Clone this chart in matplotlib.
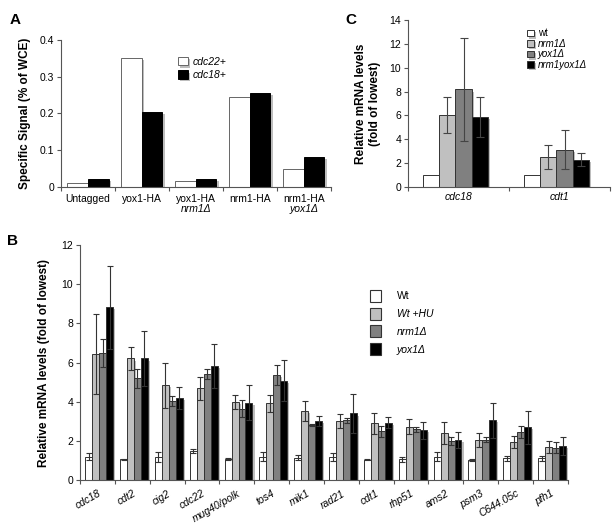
import numpy as np
import matplotlib
matplotlib.use("Agg")
import matplotlib.pyplot as plt
import matplotlib.patheffects as pe
from matplotlib.patches import Patch

plt.rcParams['font.family'] = ['Liberation Sans', 'DejaVu Sans']

# ---- panel A: ChIP signal ----
a_groups = ["Untagged", "yox1-HA", "yox1-HA", "nrm1-HA", "nrm1-HA"]
a_sub = ["", "", "nrm1Δ", "", "yox1Δ"]
a_cdc22 = [0.012, 0.350, 0.017, 0.245, 0.048]
a_cdc18 = [0.022, 0.205, 0.022, 0.256, 0.082]

# ---- panel B: mRNA levels ----
b_genes = ["cdc18", "cdt2", "cig2", "cdc22", "mug40/polk", "tos4", "mik1", "rad21",
           "cdt1", "rhp51", "ams2", "psm3", "C644.05c", "pfh1"]
b_labels = ["Wt", "Wt +HU", "nrm1Δ", "yox1Δ"]
b_wt = [1.20, 1.05, 1.16, 1.48, 1.05, 1.19, 1.14, 1.16, 1.03, 1.05, 1.19, 1.02, 1.11, 1.11]
b_wt_err = [0.20, 0.04, 0.25, 0.12, 0.05, 0.23, 0.12, 0.20, 0.03, 0.14, 0.24, 0.06, 0.13, 0.13]
b_hu = [6.45, 6.21, 4.85, 4.68, 3.98, 3.91, 3.51, 3.01, 2.89, 2.72, 2.38, 2.04, 1.94, 1.70]
b_hu_err = [2.05, 0.60, 1.15, 0.60, 0.37, 0.45, 0.52, 0.35, 0.52, 0.38, 0.56, 0.37, 0.31, 0.30]
b_nrm = [6.50, 5.19, 4.05, 5.41, 3.64, 5.36, 2.81, 3.06, 2.50, 2.59, 2.00, 2.06, 2.45, 1.65]
b_nrm_err = [0.70, 0.50, 0.25, 0.25, 0.43, 0.52, 0.07, 0.13, 0.28, 0.14, 0.20, 0.12, 0.30, 0.27]
b_yox = [8.82, 6.21, 4.19, 5.84, 3.95, 5.07, 3.01, 3.40, 2.93, 2.55, 2.04, 3.06, 2.69, 1.75]
b_yox_err = [2.10, 1.42, 0.55, 1.12, 0.90, 1.05, 0.25, 1.00, 0.27, 0.43, 0.40, 0.90, 0.85, 0.45]

# ---- panel C: mRNA in double mutant ----
c_genes = ["cdc18", "cdt1"]
c_labels = ["wt", "nrm1Δ", "yox1Δ", "nrm1yox1Δ"]
c_vals = [[1.0, 1.0], [6.02, 2.52], [8.18, 3.14], [5.88, 2.30]]
c_errs = [[0.0, 0.0], [1.50, 1.03], [4.30, 1.61], [1.68, 0.55]]

fills = ["white", "#c0c0c0", "#808080", "black"]
edge = "#333333"
shadow = [pe.SimplePatchShadow(offset=(1.5, -1.5), shadow_rgbFace="#bdbdbd", alpha=1), pe.Normal()]


def style_axes(ax):
    for s in ["top", "right"]:
        ax.spines[s].set_visible(False)
    for s in ["left", "bottom"]:
        ax.spines[s].set_color("#555555")
        ax.spines[s].set_linewidth(0.8)
    ax.tick_params(axis="y", direction="out", length=3, width=0.8, color="#555555", labelsize=7.5, pad=2)


def cat_ticks(ax, n):
    # Excel-like tick marks between categories, labels centred without marks
    ax.set_xlim(-0.5, n - 0.5)
    ax.set_xticks(np.arange(n))
    ax.set_xticks(np.arange(n + 1) - 0.5, minor=True)
    ax.tick_params(axis="x", which="major", length=0)
    ax.tick_params(axis="x", which="minor", direction="out", length=3, width=0.8, color="#555555")


fig = plt.figure(figsize=(6.12, 5.23), dpi=100)

# panel A
axA = fig.add_axes([0.0997, 0.6425, 0.441, 0.281])
style_axes(axA)
x = np.arange(len(a_groups))
w = 0.38
b1 = axA.bar(x - w / 2, a_cdc22, w, color="white", edgecolor="#666666", linewidth=0.7, label="cdc22+")
b2 = axA.bar(x + w / 2, a_cdc18, w, color="black", edgecolor="black", linewidth=0.7, label="cdc18+")
for b in list(b1) + list(b2):
    b.set_path_effects(shadow)
cat_ticks(axA, len(a_groups))
axA.set_xticklabels(a_groups, fontsize=7.5)
axA.tick_params(axis="x", which="major", pad=5)
for i, s in enumerate(a_sub):
    if s:
        axA.text(i, -0.047, s, ha="center", va="top", fontsize=7.5, style="italic")
axA.set_ylim(0, 0.4)
axA.set_yticks([0, 0.1, 0.2, 0.3, 0.4])
axA.set_yticklabels(["0", "0.1", "0.2", "0.3", "0.4"])
axA.set_ylabel("Specific Signal (% of WCE)", fontsize=8.5, fontweight="bold", labelpad=6)
legA = axA.legend(loc="upper left", bbox_to_anchor=(0.40, 0.95), frameon=False, fontsize=7.5,
                  handlelength=0.9, handleheight=0.9, handletextpad=0.5, labelspacing=0.35)
for t in legA.get_texts():
    t.set_style("italic")

# panel C
axC = fig.add_axes([0.6667, 0.6425, 0.33, 0.319])
style_axes(axC)
xc = np.arange(len(c_genes))
wc = 0.16
for k in range(4):
    pos = xc + (k - 1.5) * wc - 0.03
    bars = axC.bar(pos, c_vals[k], wc, color=fills[k], edgecolor=edge, linewidth=0.7, label=c_labels[k])
    for b in bars:
        b.set_path_effects(shadow)
    if k > 0:
        axC.errorbar(pos, c_vals[k], yerr=c_errs[k], fmt="none", ecolor="#444444",
                     elinewidth=0.8, capsize=3, capthick=0.8)
cat_ticks(axC, len(c_genes))
axC.set_xticklabels(c_genes, fontsize=7.5, style="italic")
axC.set_ylim(0, 14)
axC.set_yticks(range(0, 15, 2))
axC.set_ylabel("Relative mRNA levels\n(fold of lowest)", fontsize=8.5, fontweight="bold", labelpad=6)
legC = axC.legend(loc="upper left", bbox_to_anchor=(0.59, 0.95), frameon=False, fontsize=7,
                  handlelength=0.7, handleheight=0.7, handletextpad=0.4, labelspacing=0.05,
                  borderpad=0, borderaxespad=0)
for t in legC.get_texts()[1:]:
    t.set_style("italic")
legC.get_texts()[0].set_style("normal")

# panel B
axB = fig.add_axes([0.1307, 0.0822, 0.797, 0.449])
style_axes(axB)
xb = np.arange(len(b_genes))
wb = 0.2
b_vals = [b_wt, b_hu, b_nrm, b_yox]
b_errs = [b_wt_err, b_hu_err, b_nrm_err, b_yox_err]
for k in range(4):
    pos = xb + (k - 1.5) * wb + 0.05
    bars = axB.bar(pos, b_vals[k], wb, color=fills[k], edgecolor=edge, linewidth=0.7, label=b_labels[k])
    for b in bars:
        b.set_path_effects(shadow)
    axB.errorbar(pos, b_vals[k], yerr=b_errs[k], fmt="none", ecolor="#333333",
                 elinewidth=0.8, capsize=2, capthick=0.8)
cat_ticks(axB, len(b_genes))
axB.set_xticklabels(b_genes, fontsize=7.5, style="italic", rotation=30, ha="right",
                    rotation_mode="anchor")
axB.tick_params(axis="x", which="major", pad=6)
axB.set_ylim(0, 12)
axB.set_yticks(range(0, 13, 2))
axB.set_ylabel("Relative mRNA levels (fold of lowest)", fontsize=8.5, fontweight="bold", labelpad=8)
handles = [Patch(facecolor=f, edgecolor=edge, linewidth=0.8) for f in fills]
legB = axB.legend(handles, b_labels, loc="upper left", bbox_to_anchor=(0.575, 0.85), frameon=False,
                  fontsize=7.5, handlelength=1.1, handleheight=1.4, handletextpad=1.5, labelspacing=0.55)
for t in legB.get_texts()[1:]:
    t.set_style("italic")

fig.text(0.015, 0.975, "A", fontsize=11, fontweight="bold", va="top")
fig.text(0.565, 0.975, "C", fontsize=11, fontweight="bold", va="top")
fig.text(0.012, 0.553, "B", fontsize=11, fontweight="bold", va="top")

fig.savefig("out.png", dpi=100, facecolor="white")
